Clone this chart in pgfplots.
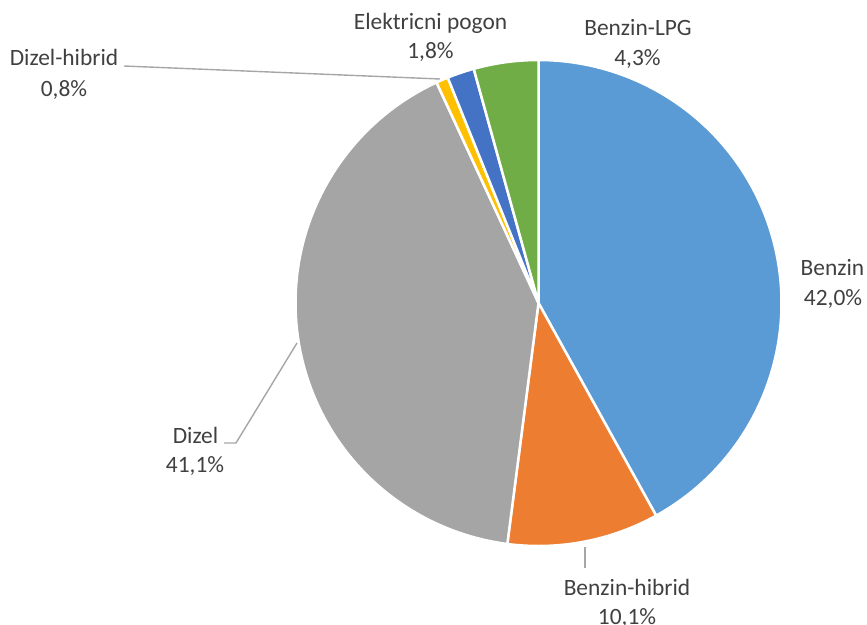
\documentclass[border=0pt]{standalone}
\usepackage{fontspec}
\setmainfont{Carlito}
\usepackage{pgfplots}
\usepackage{pgfplotstable}
\pgfplotsset{compat=1.18}

\definecolor{cBenzin}{HTML}{5B9BD5}
\definecolor{cHibrid}{HTML}{ED7D31}
\definecolor{cDizel}{HTML}{A5A5A5}
\definecolor{cDizHib}{HTML}{FFC000}
\definecolor{cElektr}{HTML}{4472C4}
\definecolor{cLPG}{HTML}{70AD47}
\definecolor{txt}{HTML}{404040}
\definecolor{lead}{HTML}{A6A6A6}

% shares in percent, clockwise from 12 o'clock
\pgfplotstableread[col sep=comma]{
name,value
Benzin,42.0
Benzin-hibrid,10.1
Dizel,41.1
Dizel-hibrid,0.8
Elektricni pogon,1.8
Benzin-LPG,4.3
}\pietable

\pgfplotstablegetelem{0}{value}\of\pietable\let\vA\pgfplotsretval
\pgfplotstablegetelem{1}{value}\of\pietable\let\vB\pgfplotsretval
\pgfplotstablegetelem{2}{value}\of\pietable\let\vC\pgfplotsretval
\pgfplotstablegetelem{3}{value}\of\pietable\let\vD\pgfplotsretval
\pgfplotstablegetelem{4}{value}\of\pietable\let\vE\pgfplotsretval
\pgfplotstablegetelem{5}{value}\of\pietable\let\vF\pgfplotsretval

\pgfmathsetmacro\tot{\vA+\vB+\vC+\vD+\vE+\vF}
\pgfmathsetmacro\aA{90}
\pgfmathsetmacro\aB{\aA-\vA*360/\tot}
\pgfmathsetmacro\aC{\aB-\vB*360/\tot}
\pgfmathsetmacro\aD{\aC-\vC*360/\tot}
\pgfmathsetmacro\aE{\aD-\vD*360/\tot}
\pgfmathsetmacro\aF{\aE-\vE*360/\tot}
\pgfmathsetmacro\aG{\aF-\vF*360/\tot}

% pie centre and radius (picture units = px)
\def\cx{538.5}
\def\cy{303}
\def\r{243}

\tikzset{
  slice/.style={draw=white, line width=2.5bp, line join=round, samples=150},
  lbl/.style={anchor=base, inner sep=0pt, text=txt,
    font=\fontsize{23.4bp}{28bp}\selectfont},
}

\begin{document}
\begin{tikzpicture}
\begin{axis}[
  width=867bp, height=625bp, scale only axis,
  hide axis, clip=false,
  xmin=0, xmax=867, ymin=0, ymax=625,
  y dir=reverse,
]
  \addplot[slice, fill=cBenzin, domain=\aB:\aA] ({\cx+\r*cos(x)},{\cy-\r*sin(x)}) -- (axis cs:\cx,\cy) -- cycle;
  \addplot[slice, fill=cHibrid, domain=\aC:\aB] ({\cx+\r*cos(x)},{\cy-\r*sin(x)}) -- (axis cs:\cx,\cy) -- cycle;
  \addplot[slice, fill=cDizel, domain=\aD:\aC] ({\cx+\r*cos(x)},{\cy-\r*sin(x)}) -- (axis cs:\cx,\cy) -- cycle;
  \addplot[slice, fill=cDizHib, domain=\aE:\aD] ({\cx+\r*cos(x)},{\cy-\r*sin(x)}) -- (axis cs:\cx,\cy) -- cycle;
  \addplot[slice, fill=cElektr, domain=\aF:\aE] ({\cx+\r*cos(x)},{\cy-\r*sin(x)}) -- (axis cs:\cx,\cy) -- cycle;
  \addplot[slice, fill=cLPG, domain=\aG:\aF] ({\cx+\r*cos(x)},{\cy-\r*sin(x)}) -- (axis cs:\cx,\cy) -- cycle;

  % leader lines
  \addplot[draw=lead, line width=1.4bp] coordinates {(124,66) (440,79)};
  \addplot[draw=lead, line width=1.4bp] coordinates {(224,443) (236,443) (297,343)};
  \addplot[draw=lead, line width=1.4bp] coordinates {(585,547) (585,568)};

  % data labels
  \node[lbl] at (axis cs:832.5,275) {Benzin};
  \node[lbl] at (axis cs:833,305) {42,0\%};
  \node[lbl] at (axis cs:627,595) {Benzin-hibrid};
  \node[lbl] at (axis cs:627,624) {10,1\%};
  \node[lbl] at (axis cs:195.5,443) {Dizel};
  \node[lbl] at (axis cs:195,472) {41,1\%};
  \node[lbl] at (axis cs:64,66) {Dizel-hibrid};
  \node[lbl] at (axis cs:64,96) {0,8\%};
  \node[lbl] at (axis cs:430.5,30) {Elektricni pogon};
  \node[lbl] at (axis cs:430.5,59) {1,8\%};
  \node[lbl] at (axis cs:638,36) {Benzin-LPG};
  \node[lbl] at (axis cs:637.5,66) {4,3\%};

  \coordinate (bbA) at (rel axis cs:0,0);
  \coordinate (bbB) at (rel axis cs:1,1);
\end{axis}
\pgfresetboundingbox
\path[use as bounding box] (bbA) rectangle (bbB);
\end{tikzpicture}
\end{document}
